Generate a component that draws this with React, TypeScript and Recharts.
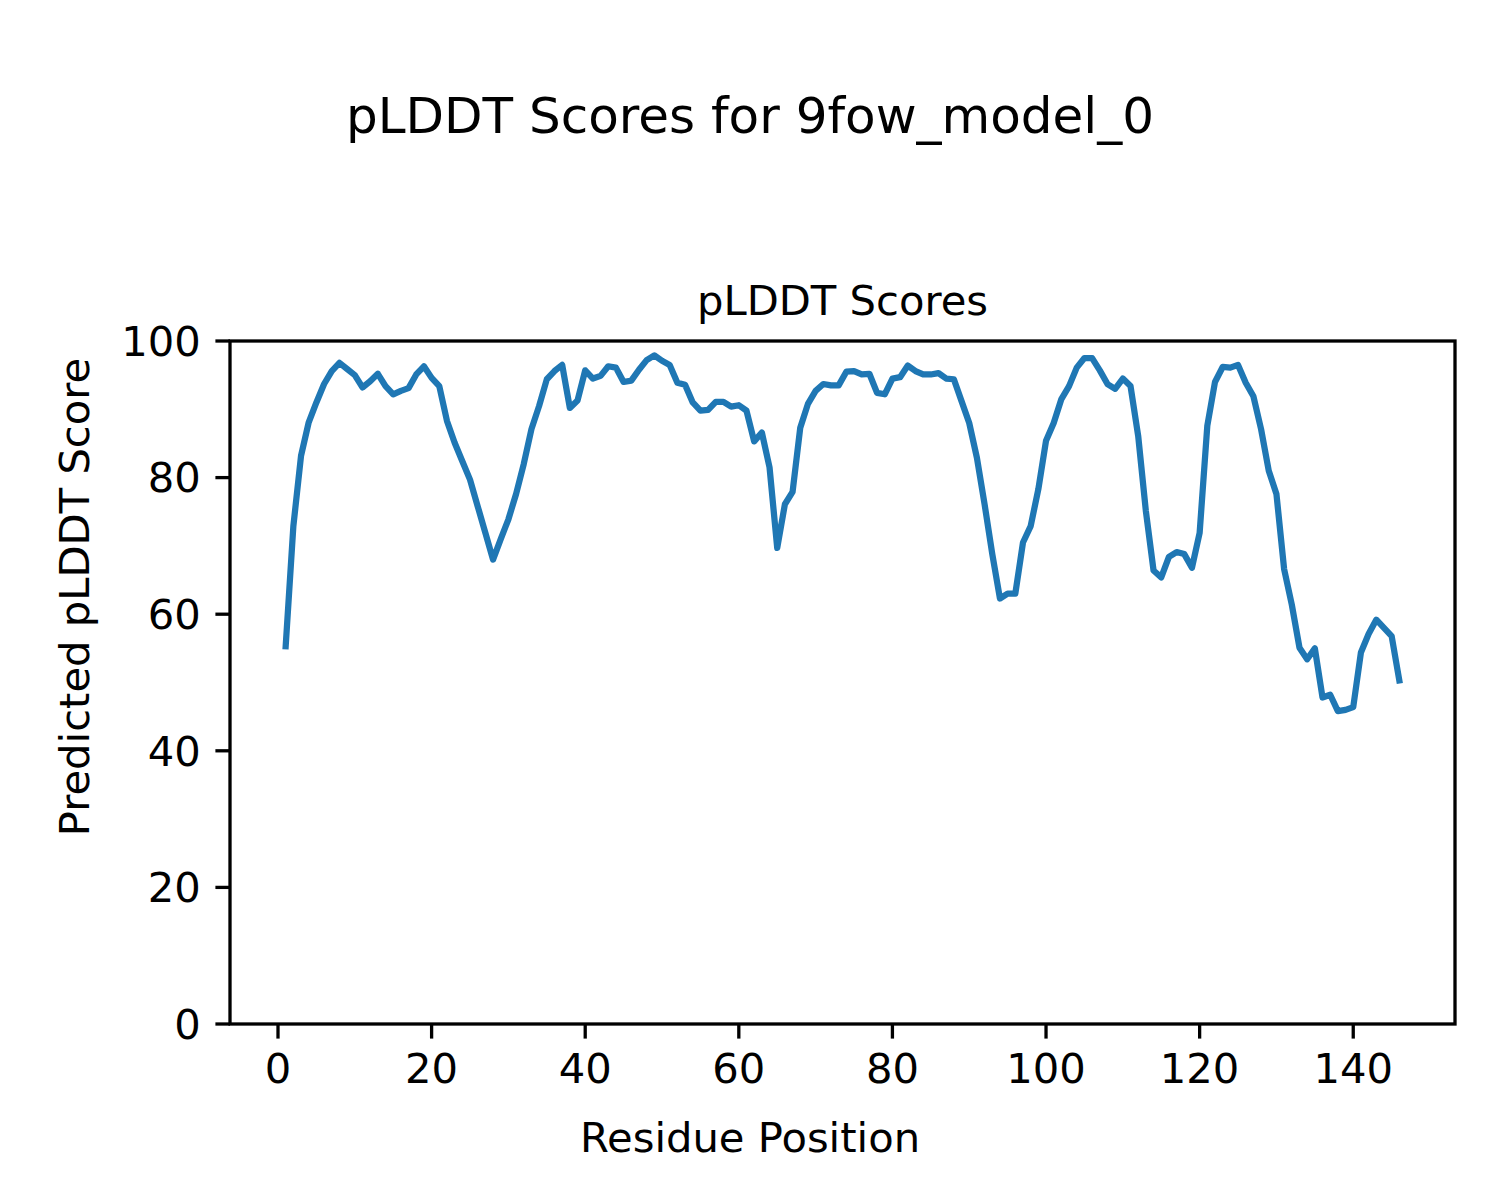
import React from "react";
import { LineChart, Line, XAxis, YAxis } from "recharts";

const residues: number[] = Array.from({ length: 146 }, (_, i) => i + 1);

const scores: number[] = [
  55.3, 72.9, 83.2, 88.1, 91.0, 93.7, 95.6, 96.8, 95.9, 95.0,
  93.2, 94.1, 95.2, 93.4, 92.2, 92.7, 93.1, 95.1, 96.3, 94.6,
  93.4, 88.3, 85.1, 82.4, 79.7, 75.8, 71.9, 68.0, 71.0, 73.9,
  77.6, 82.0, 87.1, 90.5, 94.4, 95.6, 96.5, 90.2, 91.3, 95.7,
  94.5, 94.9, 96.3, 96.1, 94.0, 94.2, 95.8, 97.2, 97.9, 97.1,
  96.5, 93.9, 93.6, 91.0, 89.8, 89.9, 91.1, 91.1, 90.4, 90.6,
  89.8, 85.3, 86.6, 81.5, 69.7, 76.1, 77.9, 87.3, 90.8, 92.7,
  93.7, 93.5, 93.5, 95.5, 95.6, 95.1, 95.2, 92.4, 92.2, 94.5,
  94.7, 96.4, 95.6, 95.1, 95.1, 95.3, 94.5, 94.4, 91.2, 88.0,
  82.9, 76.1, 68.8, 62.3, 63.0, 63.0, 70.5, 72.9, 78.3, 85.4,
  88.0, 91.5, 93.4, 96.1, 97.5, 97.5, 95.7, 93.7, 93.0, 94.5,
  93.4, 86.1, 75.1, 66.4, 65.4, 68.4, 69.1, 68.8, 66.8, 71.9,
  87.6, 94.0, 96.2, 96.1, 96.5, 93.9, 91.9, 87.1, 81.0, 77.6,
  66.6, 61.4, 55.1, 53.4, 55.0, 47.8, 48.2, 45.8, 46.0, 46.4,
  54.4, 57.1, 59.2, 58.0, 56.8, 50.3,
];

const xTicks: number[] = [0, 20, 40, 60, 80, 100, 120, 140];
const yTicks: number[] = [0, 20, 40, 60, 80, 100];
const xDomain: [number, number] = [-6.25, 153.25];
const yDomain: [number, number] = [0, 100];

const suptitle = "pLDDT Scores for 9fow_model_0";
const axTitle = "pLDDT Scores";
const xLabel = "Residue Position";
const yLabel = "Predicted pLDDT Score";

const data = residues.map((r, i) => ({ x: r, y: scores[i] }));

const FONT = "DejaVu Sans";
const tickStyle = { fill: "#000", fontSize: 41.7, fontFamily: FONT };

export default function App() {
  return (
    <div style={{ position: "absolute", left: 0, top: 0, width: 1500, height: 1200, background: "#fff" }}>
      <LineChart
        width={1500}
        height={1200}
        data={data}
        margin={{ top: 341, right: 45, bottom: 76, left: 130 }}
      >
        <XAxis
          type="number"
          dataKey="x"
          domain={xDomain}
          ticks={xTicks}
          allowDataOverflow
          height={100}
          axisLine={false}
          tickLine={{ stroke: "#000", strokeWidth: 3.3 }}
          tickSize={14.6}
          tickMargin={14.8}
          tick={tickStyle}
          interval={0}
        />
        <YAxis
          type="number"
          domain={yDomain}
          ticks={yTicks}
          allowDataOverflow
          width={100}
          axisLine={false}
          tickLine={{ stroke: "#000", strokeWidth: 3.3 }}
          tickSize={14.6}
          tickMargin={14.6}
          tick={tickStyle}
          interval={0}
        />
        <Line
          type="linear"
          dataKey="y"
          stroke="#1f77b4"
          strokeWidth={6.25}
          strokeLinejoin="round"
          strokeLinecap="square"
          dot={false}
          activeDot={false}
          isAnimationActive={false}
        />
      </LineChart>
      <svg
        width={1500}
        height={1200}
        style={{ position: "absolute", left: 0, top: 0, pointerEvents: "none" }}
      >
        <rect x={230} y={341} width={1225} height={683} fill="none" stroke="#000" strokeWidth={3.3} />
        <text x={750} y={133} textAnchor="middle" fontFamily={FONT} fontSize={50} fill="#000">
          {suptitle}
        </text>
        <text x={842.5} y={315} textAnchor="middle" fontFamily={FONT} fontSize={41.7} fill="#000">
          {axTitle}
        </text>
        <text x={750} y={1152} textAnchor="middle" fontFamily={FONT} fontSize={41.7} fill="#000">
          {xLabel}
        </text>
        <text
          x={88.5}
          y={597}
          textAnchor="middle"
          fontFamily={FONT}
          fontSize={41.7}
          fill="#000"
          transform="rotate(-90, 88.5, 597)"
        >
          {yLabel}
        </text>
      </svg>
    </div>
  );
}
